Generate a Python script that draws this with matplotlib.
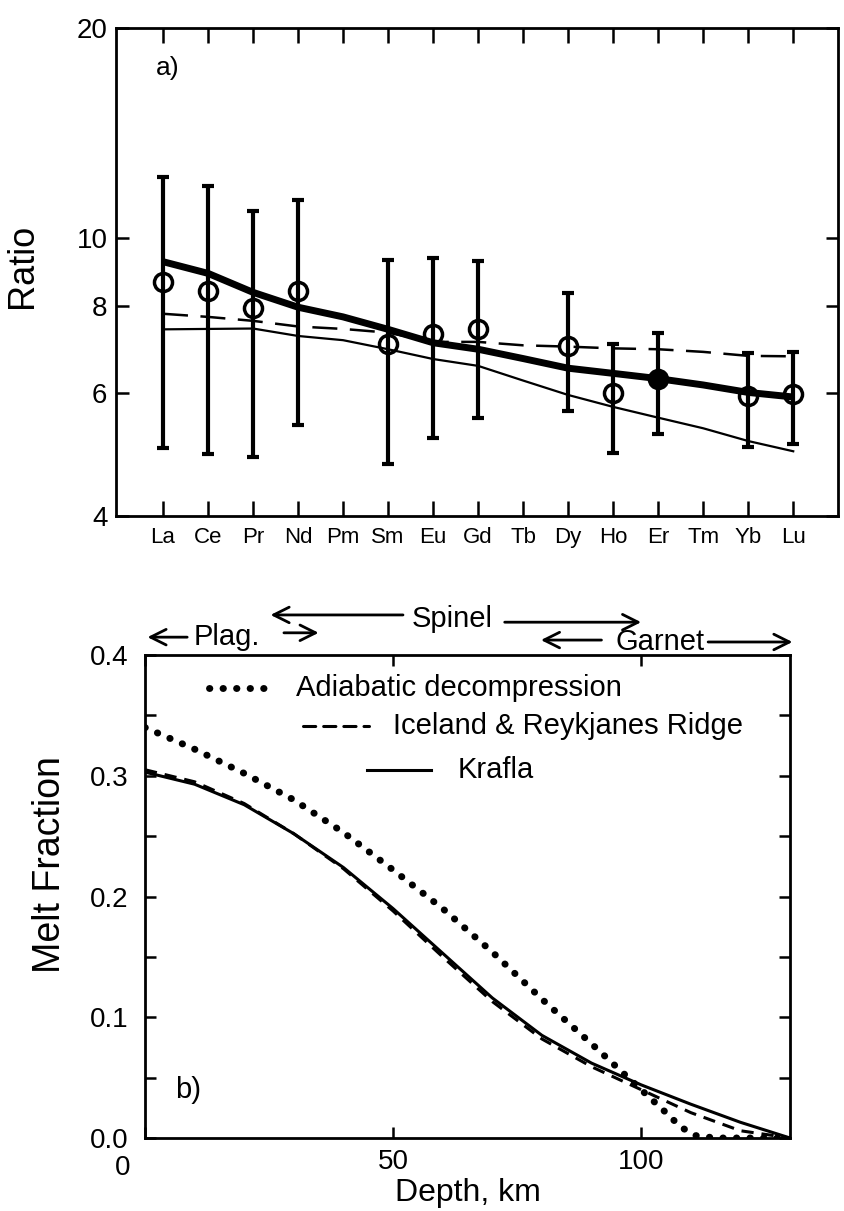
import numpy as np
import matplotlib
matplotlib.use("Agg")
import matplotlib.pyplot as plt
from matplotlib import font_manager
from matplotlib.ticker import FixedLocator, NullLocator, MultipleLocator
import matplotlib.transforms as mtransforms


def pick_font(names):
    for n in names:
        try:
            font_manager.findfont(n, fallback_to_default=False)
            return n
        except Exception:
            pass
    return "DejaVu Sans"


FONT = pick_font(["Liberation Sans", "Arial", "DejaVu Sans"])

# ---- panel a) REE ratios ----
elements = ["La", "Ce", "Pr", "Nd", "Pm", "Sm", "Eu", "Gd", "Tb", "Dy", "Ho", "Er", "Tm", "Yb", "Lu"]

obs_elements = ["La", "Ce", "Pr", "Nd", "Sm", "Eu", "Gd", "Dy", "Ho", "Er", "Yb", "Lu"]
obs_mean = [8.65, 8.40, 7.94, 8.39, 7.04, 7.28, 7.41, 7.00, 5.99, 6.29, 5.93, 5.98]
obs_high = [12.24, 11.87, 10.92, 11.35, 9.29, 9.35, 9.28, 8.33, 7.04, 7.31, 6.84, 6.87]
obs_low = [5.00, 4.90, 4.86, 5.40, 4.75, 5.17, 5.53, 5.65, 4.92, 5.24, 5.02, 5.07]
obs_filled = ["Er"]

model_thick = [9.25, 8.90, 8.36, 7.96, 7.71, 7.40, 7.08, 6.93, 6.72, 6.51, 6.40, 6.29, 6.16, 6.01, 5.92]
model_dashed = [7.79, 7.71, 7.61, 7.47, 7.41, 7.32, 7.10, 7.10, 7.02, 6.99, 6.95, 6.93, 6.87, 6.78, 6.77]
model_thin = [7.40, 7.41, 7.42, 7.24, 7.14, 6.93, 6.71, 6.56, 6.25, 5.96, 5.73, 5.53, 5.34, 5.12, 4.95]

ratio_ticks = [4, 6, 8, 10, 20]

# ---- panel b) melt fraction vs depth ----
depth = [0, 10, 20, 30, 40, 50, 60, 70, 80, 90, 100, 110, 120, 130]
krafla = [0.303, 0.293, 0.276, 0.252, 0.224, 0.190, 0.153, 0.116, 0.085, 0.062, 0.044, 0.028, 0.013, 0.0]
iceland = [0.305, 0.295, 0.277, 0.252, 0.223, 0.188, 0.150, 0.113, 0.082, 0.059, 0.040, 0.021, 0.006, 0.0]
depth_adiab = [0, 10, 20, 30, 40, 50, 60, 70, 80, 90, 100, 105, 108, 111, 115, 130]
adiabatic = [0.340, 0.322, 0.302, 0.280, 0.253, 0.222, 0.190, 0.154, 0.115, 0.078, 0.040, 0.021, 0.009, 0.002, 0.0, 0.0]

DOTTED = (0, (0.05, 1.9))
DASHED_B = (0, (4, 2.6))

fig = plt.figure(figsize=(8.45, 12.11), dpi=100)
fig.patch.set_facecolor("white")

# ================= top panel =================
ax1 = fig.add_axes([0.137, 0.574, 0.855, 0.403])
x_all = np.arange(len(elements))
x_obs = np.array([elements.index(e) for e in obs_elements])
mean = np.array(obs_mean)
yerr = [mean - np.array(obs_low), np.array(obs_high) - mean]

ax1.errorbar(x_obs, mean, yerr=yerr, fmt="none", ecolor="black",
             elinewidth=3.0, capsize=4, capthick=3.0, zorder=3)
ax1.plot(x_all, model_thin, color="black", lw=1.6, zorder=2)
ax1.plot(x_all, model_dashed, color="black", lw=1.8, dashes=(10, 5), zorder=2)
ax1.plot(x_all, model_thick, color="black", lw=5.0, solid_capstyle="butt", zorder=4)
for xi, e, m in zip(x_obs, obs_elements, obs_mean):
    fc = "black" if e in obs_filled else "none"
    ax1.plot(xi, m, marker="o", ms=13, mfc=fc, mec="black", mew=2.5, zorder=5)

ax1.set_yscale("log")
ax1.set_ylim(4, 20)
ax1.set_xlim(-1.05, 15.0)
ax1.yaxis.set_major_locator(FixedLocator(ratio_ticks))
ax1.yaxis.set_minor_locator(NullLocator())
ax1.set_yticklabels([str(t) for t in ratio_ticks], fontsize=20, family=FONT)
ax1.set_xticks(x_all)
ax1.set_xticklabels(elements, fontsize=16, family=FONT)
ax1.tick_params(axis="x", direction="in", length=11, width=1.8, top=True, pad=8)
ax1.tick_params(axis="y", direction="in", length=9, width=1.8, right=True, pad=6)
for s in ax1.spines.values():
    s.set_linewidth(2.0)
ax1.set_ylabel("Ratio", fontsize=26, family=FONT)
ax1.yaxis.set_label_coords(-0.105, 0.512)
ax1.text(0.072, 0.918, "a)", transform=ax1.transAxes, fontsize=19,
         family=FONT, ha="center", va="center")

# ================= bottom panel =================
ax2 = fig.add_axes([0.1716, 0.0603, 0.7633, 0.3988])
ax2.plot(depth_adiab, adiabatic, color="black", lw=5.0,
         linestyle=DOTTED, dash_capstyle="round", zorder=3)
ax2.plot(depth, iceland, color="black", lw=2.2, linestyle=DASHED_B, zorder=3)
ax2.plot(depth, krafla, color="black", lw=2.2, zorder=4)

ax2.set_xlim(0, 130)
ax2.set_ylim(0, 0.4)
ax2.set_xticks([0, 50, 100])
ax2.set_xticklabels(["0", "50", "100"], fontsize=20, family=FONT)
ax2.set_yticks([0, 0.1, 0.2, 0.3, 0.4])
ax2.yaxis.set_minor_locator(MultipleLocator(0.05))
ax2.set_yticklabels(["0.0", "0.1", "0.2", "0.3", "0.4"], fontsize=20, family=FONT)
ax2.tick_params(axis="both", which="both", direction="in", length=8, width=1.8,
                top=True, right=True)
ax2.tick_params(axis="y", pad=12)
ax2.tick_params(axis="x", pad=8)
# the "0" label sits left of and a bit below the axis corner
lab0 = ax2.get_xticklabels()[0]
lab0.set_transform(lab0.get_transform() + mtransforms.ScaledTranslation(-0.22, -0.06, fig.dpi_scale_trans))
for s in ax2.spines.values():
    s.set_linewidth(2.0)
ax2.set_xlabel("Depth, km", fontsize=23, family=FONT)
ax2.xaxis.set_label_coords(0.50, -0.082)
ax2.xaxis.label.set_va("top")
ax2.set_ylabel("Melt Fraction", fontsize=27, family=FONT)
ax2.yaxis.set_label_coords(-0.119, 0.567)
ax2.text(0.067, 0.10, "b)", transform=ax2.transAxes, fontsize=21,
         family=FONT, ha="center", va="center")

# staggered legend
leg = [
    (DOTTED, 5.0, 0.099, 0.197, 0.234, 0.932, "Adiabatic decompression"),
    (DASHED_B, 2.2, 0.245, 0.347, 0.384, 0.853, "Iceland & Reykjanes Ridge"),
    ("-", 2.2, 0.344, 0.443, 0.484, 0.762, "Krafla"),
]
for ls, lw, x0, x1, xt, yy, txt in leg:
    ax2.plot([x0, x1], [yy, yy], transform=ax2.transAxes, color="black",
             lw=lw, linestyle=ls, dash_capstyle="round", clip_on=False)
    ax2.text(xt, yy, txt, transform=ax2.transAxes, fontsize=21, family=FONT,
             ha="left", va="center")

# mineral stability arrows above the panel
trans = ax2.get_xaxis_transform()
arr = dict(arrowstyle="->", lw=2.0, color="black", mutation_scale=28,
           shrinkA=0, shrinkB=0)


def zone_arrow(x_from, x_to, y):
    ax2.annotate("", xy=(x_to, y), xytext=(x_from, y), xycoords=trans,
                 textcoords=trans, arrowprops=arr, annotation_clip=False)


zone_arrow(8.5, 0.5, 1.037)
ax2.text(16.5, 1.037, "Plag.", transform=trans, fontsize=21, family=FONT,
         ha="center", va="center")
zone_arrow(28, 35, 1.046)
zone_arrow(52, 25.3, 1.083)
ax2.text(62, 1.075, "Spinel", transform=trans, fontsize=21, family=FONT,
         ha="center", va="center")
zone_arrow(72.5, 100, 1.068)
zone_arrow(92, 79.8, 1.031)
ax2.text(103.8, 1.028, "Garnet", transform=trans, fontsize=21, family=FONT,
         ha="center", va="center")
zone_arrow(113.5, 130.5, 1.027)

fig.savefig("out.png", dpi=100, facecolor="white")
